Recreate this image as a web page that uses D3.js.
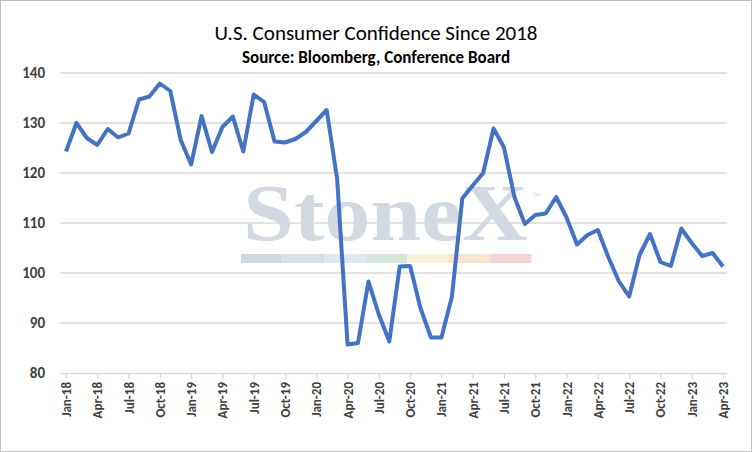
<!DOCTYPE html>
<html><head><meta charset="utf-8">
<script src="https://cdn.jsdelivr.net/npm/d3@7"></script>
<style>body{margin:0;background:#fff}</style></head>
<body><svg width="752" height="452"></svg>
<script>
const months = d3.range(64).map(i => new Date(2018, i, 1));
const values = [
  124.3,130.0,127.0,125.6,128.8,127.1,127.9,134.7,135.3,137.9,136.4,126.6,
  121.7,131.4,124.2,129.2,131.3,124.3,135.7,134.2,126.3,126.1,126.8,128.2,
  130.4,132.6,118.8,85.7,86.0,98.3,91.7,86.3,101.3,101.4,92.9,87.1,
  87.1,95.2,114.9,117.5,120.0,128.9,125.1,115.2,109.8,111.6,111.9,115.2,
  111.1,105.7,107.6,108.6,103.2,98.4,95.3,103.6,107.8,102.2,101.4,108.9,
  106.0,103.4,104.0,101.3
];
const yTicks = [80, 90, 100, 110, 120, 130, 140];

const svg = d3.select('svg');
svg.append('rect').attr('x', 0.5).attr('y', 0.5).attr('width', 751).attr('height', 451)
  .attr('fill', '#fff').attr('stroke', '#bfbfbf');

const margin = {left: 60, right: 25, top: 73, bottom: 79};
const x = d3.scalePoint().domain(d3.range(64)).range([66, 723]);
const y = d3.scaleLinear().domain([80, 140]).range([373, 73]);

// gridlines
svg.append('g').selectAll('line').data(yTicks.slice(1)).join('line')
  .attr('x1', margin.left).attr('x2', 727)
  .attr('y1', d => y(d)).attr('y2', d => y(d))
  .attr('stroke', '#d9d9d9').attr('stroke-width', 1.3);

// watermark
const wm = svg.append('g');
wm.append('text').attr('x', 243).attr('y', 240)
  .attr('textLength', 285).attr('lengthAdjust', 'spacingAndGlyphs')
  .attr('font-family', 'Liberation Serif, serif').attr('font-weight', 'bold')
  .attr('font-size', 80).attr('fill', '#d3d9e0').text('StoneX');
wm.append('text').attr('x', 532).attr('y', 199).attr('font-family', 'Liberation Sans')
  .attr('font-size', 9).attr('fill', '#d5dbe2').text('™');
const bands = ['#d3d8e0', '#d6dfea', '#ddeaf4', '#d5e6dc', '#f7f4dc', '#f9e5cf', '#f2d4d4'];
wm.selectAll('rect').data(bands).join('rect')
  .attr('x', (d, i) => 241 + i * 41.5).attr('y', 254).attr('width', 41.5).attr('height', 9)
  .attr('fill', d => d);

// y axis labels
svg.append('g').selectAll('text').data(yTicks).join('text')
  .attr('x', 45).attr('y', d => y(d) + 5).attr('text-anchor', 'end')
  .attr('font-family', 'Calibri, Carlito, Liberation Sans, sans-serif').attr('font-weight', 'bold')
  .attr('font-size', 15).attr('fill', '#404040').text(d => d);

// x axis
const fmt = d3.timeFormat('%b-%y');
const xAxis = d3.axisBottom(x)
  .tickValues(d3.range(0, 64, 3))
  .tickFormat(i => fmt(months[i]))
  .tickSize(6).tickSizeOuter(0);
const gx = svg.append('g').attr('transform', `translate(0,${y(80)})`).call(xAxis);
gx.select('.domain').attr('d', `M${margin.left},0.5H727`).attr('stroke', '#d9d9d9').attr('stroke-width', 1.3);
gx.selectAll('.tick line').attr('stroke', '#d9d9d9').attr('stroke-width', 1.3);
gx.selectAll('.tick text')
  .attr('transform', 'rotate(-90)').attr('text-anchor', 'end')
  .attr('x', -9).attr('y', 0).attr('dy', '0.35em')
  .attr('font-family', 'Calibri, Carlito, Liberation Sans, sans-serif').attr('font-weight', 'bold')
  .attr('font-size', 13).attr('fill', '#404040');

// line
svg.append('path').datum(values)
  .attr('fill', 'none').attr('stroke', '#4472c4').attr('stroke-width', 4)
  .attr('stroke-linejoin', 'round')
  .attr('d', d3.line().x((d, i) => x(i)).y(d => y(d)));

// titles
svg.append('text').attr('x', 376).attr('y', 40).attr('text-anchor', 'middle')
  .attr('font-family', 'Calibri, Carlito, Liberation Sans, sans-serif').attr('font-size', 21)
  .attr('fill', '#000').text('U.S. Consumer Confidence Since 2018');
svg.append('text').attr('x', 376).attr('y', 63).attr('text-anchor', 'middle')
  .attr('font-family', 'Calibri, Carlito, Liberation Sans, sans-serif').attr('font-size', 17)
  .attr('font-weight', 'bold').attr('fill', '#000').text('Source: Bloomberg, Conference Board');
</script></body></html>
